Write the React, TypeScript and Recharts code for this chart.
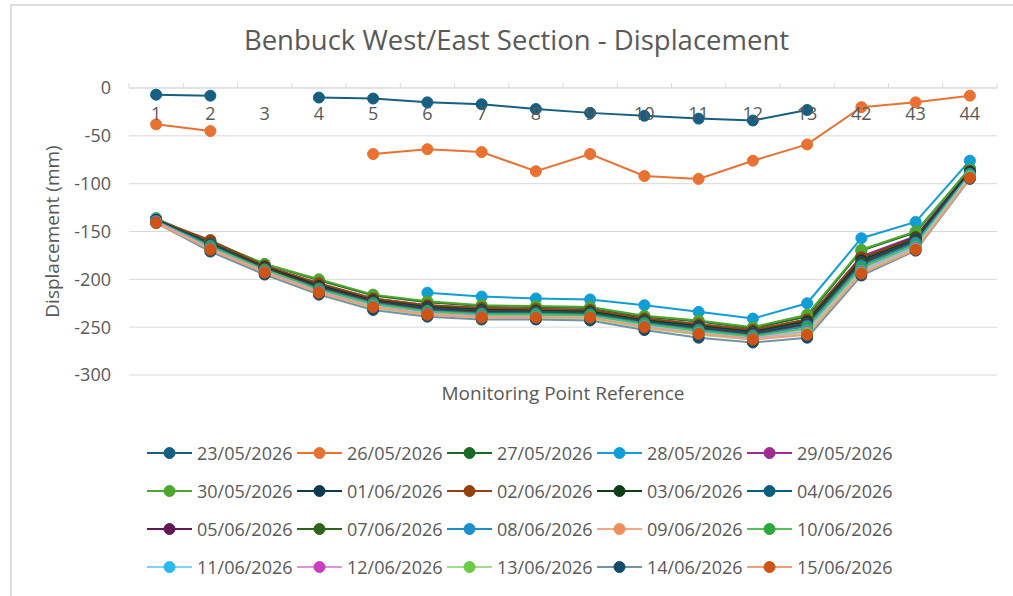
import React from 'react';
import { LineChart, Line, XAxis, YAxis, CartesianGrid, Legend } from 'recharts';

// monitoring points along the section
const points = ['1', '2', '3', '4', '5', '6', '7', '8', '9', '10', '11', '12', '13', '42', '43', '44'];

const dates = [
  '23/05/2026', '26/05/2026', '27/05/2026', '28/05/2026', '29/05/2026',
  '30/05/2026', '01/06/2026', '02/06/2026', '03/06/2026', '04/06/2026',
  '05/06/2026', '07/06/2026', '08/06/2026', '09/06/2026', '10/06/2026',
  '11/06/2026', '12/06/2026', '13/06/2026', '14/06/2026', '15/06/2026',
];

// displacement (mm), one array per survey date
const d230526 = [-7, -8, null, -10, -11, -15, -17, -22, -26, -29, -32, -34, -23, null, null, null];
const d260526 = [-38, -45, null, null, -69, -64, -67, -87, -69, -92, -95, -76, -59, -20, -15, -8];
const d270526 = [-137, -160, -184, -201, -217, -224, -228, -229, -230, -239, -244, -251, -239, -170, -151, -84];
const d280526 = [-136, -162, -186, -205, null, -214, -218, -220, -221, -227, -234, -241, -225, -157, -140, -76];
const d290526 = [-138, -162, -186, -205, -220, -227, -230, -231, -232, -241, -247, -253, -242, -176, -155, -86];
const d300526 = [-137, -161, -184, -200, -216, -223, -227, -228, -229, -238, -243, -250, -237, -169, -150, -85];
const d010626 = [-138, -162, -187, -206, -221, -228, -231, -232, -233, -242, -248, -254, -243, -178, -156, -87];
const d020626 = [-138, -159, -186, -204, -220, -227, -230, -231, -232, -241, -247, -253, -242, -177, -157, -88];
const d030626 = [-138, -163, -187, -207, -222, -229, -232, -233, -234, -243, -249, -255, -244, -180, -158, -88];
const d040626 = [-139, -163, -188, -208, -223, -230, -233, -234, -235, -244, -250, -256, -246, -182, -159, -89];
const d050626 = [-139, -164, -188, -208, -223, -231, -234, -235, -236, -245, -251, -257, -247, -183, -160, -89];
const d070626 = [-139, -164, -189, -209, -224, -232, -235, -235, -236, -245, -252, -258, -248, -184, -161, -90];
const d080626 = [-139, -165, -190, -210, -225, -233, -236, -236, -237, -246, -253, -259, -249, -186, -162, -90];
const d090626 = [-140, -167, -191, -212, -227, -235, -238, -238, -239, -248, -255, -261, -252, -189, -165, -92];
const d100626 = [-140, -166, -190, -211, -226, -234, -237, -237, -238, -247, -254, -260, -251, -188, -164, -91];
const d110626 = [-140, -168, -192, -213, -228, -236, -239, -239, -240, -249, -256, -262, -254, -191, -166, -92];
const d120626 = [-140, -168, -192, -213, -229, -236, -239, -240, -241, -250, -257, -262, -255, -192, -167, -93];
const d130626 = [-141, -169, -193, -214, -230, -237, -240, -241, -241, -251, -258, -263, -256, -193, -168, -93];
const d140626 = [-141, -171, -195, -216, -232, -239, -242, -242, -243, -253, -261, -266, -261, -196, -170, -95];
const d150626 = [-141, -169, -193, -214, -229, -237, -240, -240, -240, -250, -257, -263, -258, -194, -169, -94];

const seriesValues = [
  d230526, d260526, d270526, d280526, d290526, d300526, d010626, d020626, d030626, d040626,
  d050626, d070626, d080626, d090626, d100626, d110626, d120626, d130626, d140626, d150626,
];

const yTicks = [0, -50, -100, -150, -200, -250, -300];

const markerColors = [
  '#156082', '#E97132', '#196B24', '#0F9ED5', '#A02B93',
  '#4EA72E', '#0D3A4F', '#96400F', '#0E3F14', '#075E7F',
  '#601A58', '#2E641C', '#1F8FCB', '#EE8E5E', '#2CA83A',
  '#2AB8EE', '#C93FC1', '#6BCB45', '#134C6B', '#CF5416',
];
const lineColors = [
  '#156082', '#E97132', '#196B24', '#0F9ED5', '#A02B93',
  '#4EA72E', '#0D3A4F', '#96400F', '#0E3F14', '#075E7F',
  '#601A58', '#2E641C', '#1F8FCB', '#F2A882', '#58BE5F',
  '#7ED3F5', '#E291DD', '#A2DD8C', '#6F94A8', '#EE9F78',
];

const rows = points.map((p, i) => {
  const row: Record<string, any> = { point: p };
  seriesValues.forEach((vals, j) => {
    row['s' + j] = vals[i];
  });
  return row;
});

const FONT = "'Open Sans', sans-serif";
const TEXT = '#595959';
const GRID = '#d9d9d9';
const PLOT_W = 868;
const BAND = PLOT_W / points.length;

// category labels sit just under the zero line, tick marks between categories point up
const PointTick = (props: any) => {
  const { x, y, payload, index } = props;
  return (
    <g>
      <line x1={x - BAND / 2} x2={x - BAND / 2} y1={y} y2={y - 5} stroke={GRID} />
      {index === points.length - 1 && (
        <line x1={x + BAND / 2} x2={x + BAND / 2} y1={y} y2={y - 5} stroke={GRID} />
      )}
      <text x={x} y={y + 32} textAnchor="middle" fill={TEXT} fontSize={18} fontFamily={FONT}>
        {payload.value}
      </text>
    </g>
  );
};

const YTitle = (props: any) => {
  const { viewBox } = props;
  const cx = viewBox.x + 3;
  const cy = viewBox.y + viewBox.height / 2;
  return (
    <text
      x={cx}
      y={cy}
      transform={`rotate(-90, ${cx}, ${cy})`}
      textAnchor="middle"
      dominantBaseline="central"
      fill={TEXT}
      fontSize={19}
      fontFamily={FONT}
    >
      Displacement (mm)
    </text>
  );
};

const XTitle = (props: any) => {
  const { viewBox } = props;
  return (
    <text
      x={viewBox.x + viewBox.width / 2}
      y={viewBox.y + 18}
      textAnchor="middle"
      dominantBaseline="central"
      fill={TEXT}
      fontSize={19}
      fontFamily={FONT}
    >
      Monitoring Point Reference
    </text>
  );
};

const renderLegend = () => (
  <div
    style={{
      display: 'grid',
      gridTemplateColumns: 'repeat(5, 150px)',
      fontSize: 18,
      color: TEXT,
      fontFamily: FONT,
    }}
  >
    {dates.map((d, i) => (
      <div key={d} style={{ display: 'flex', alignItems: 'center', height: 38 }}>
        <svg width={45} height={14} style={{ flex: 'none' }}>
          <line x1={0} x2={45} y1={7} y2={7} stroke={lineColors[i]} strokeWidth={2} />
          <circle cx={22.5} cy={7} r={5.5} fill={markerColors[i]} stroke={markerColors[i]} />
        </svg>
        <span style={{ marginLeft: 5, whiteSpace: 'nowrap' }}>{d}</span>
      </div>
    ))}
  </div>
);

const App: React.FC = () => {
  return (
    <div
      style={{
        position: 'absolute',
        left: 0,
        top: 0,
        width: 1013,
        height: 596,
        background: '#fff',
        overflow: 'hidden',
        fontFamily: FONT,
      }}
    >
      {/* chart frame, cropped on the right and bottom */}
      <div
        style={{
          position: 'absolute',
          left: 10,
          top: 4,
          width: 1020,
          height: 610,
          borderLeft: '2px solid #dcdcdc',
          borderTop: '2px solid #dcdcdc',
        }}
      />
      <div
        style={{
          position: 'absolute',
          left: 10,
          top: 21,
          width: 1013,
          textAlign: 'center',
          fontSize: 27.5,
          color: TEXT,
          whiteSpace: 'nowrap',
        }}
      >
        Benbuck West/East Section - Displacement
      </div>
      <div style={{ position: 'absolute', left: 0, top: 0 }}>
        <LineChart
          width={1013}
          height={596}
          data={rows}
          margin={{ top: 58, right: 16, bottom: 191, left: 49 }}
        >
          <CartesianGrid vertical={false} stroke={GRID} />
          <XAxis
            dataKey="point"
            orientation="top"
            height={30}
            interval={0}
            padding={{ left: BAND / 2, right: BAND / 2 }}
            tickSize={0}
            tickMargin={0}
            tickLine={false}
            axisLine={{ stroke: GRID }}
            tick={<PointTick />}
          />
          <XAxis
            xAxisId="title"
            dataKey="point"
            orientation="bottom"
            height={30}
            tick={false}
            tickLine={false}
            axisLine={false}
            label={{ content: XTitle }}
          />
          <YAxis
            width={80}
            domain={[-300, 0]}
            ticks={yTicks}
            axisLine={false}
            tickLine={false}
            tickMargin={12}
            tick={{ fill: TEXT, fontSize: 18, fontFamily: FONT }}
            label={{ content: YTitle }}
          />
          <Legend
            verticalAlign="middle"
            align="center"
            layout="horizontal"
            content={renderLegend}
            wrapperStyle={{ top: 434, left: 147, width: 760 }}
          />
          {dates.map((d, i) => (
            <Line
              key={d}
              type="linear"
              dataKey={'s' + i}
              name={d}
              stroke={lineColors[i]}
              strokeWidth={2}
              dot={{ r: 5.5, fill: markerColors[i], stroke: markerColors[i], strokeWidth: 1 }}
              activeDot={false}
              isAnimationActive={false}
            />
          ))}
        </LineChart>
      </div>
    </div>
  );
};

export default App;
